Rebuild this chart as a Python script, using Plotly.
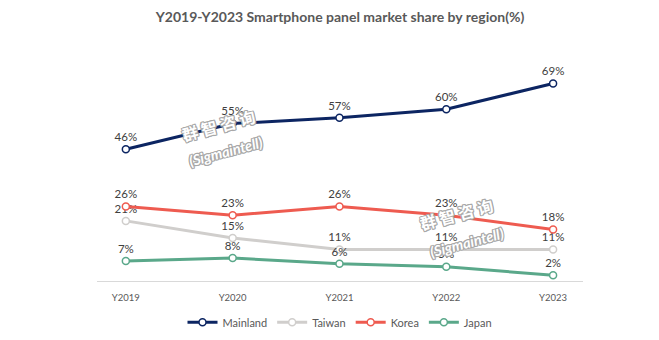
import plotly.graph_objects as go

# Market share by region, %
years = ["Y2019", "Y2020", "Y2021", "Y2022", "Y2023"]
mainland = [46, 55, 57, 60, 69]
taiwan = [21, 15, 11, 11, 11]
korea = [26, 23, 26, 23, 18]
japan = [7, 8, 6, 5, 2]

series = [
    ("Mainland", mainland, "#0c2562"),
    ("Taiwan", taiwan, "#d0cecc"),
    ("Korea", korea, "#ee5b50"),
    ("Japan", japan, "#5aa88a"),
]

xpos = list(range(len(years)))

fig = go.Figure()
for name, vals, color in series:
    fig.add_trace(go.Scatter(
        x=xpos, y=vals, name=name,
        mode="lines+markers+text",
        line=dict(color=color, width=3),
        marker=dict(size=7, color="white", line=dict(color=color, width=1.5)),
        text=[f"{v}%" for v in vals],
        textposition="top center",
        textfont=dict(family="Lato", size=11.5, color="#404040"),
        cliponaxis=False,
    ))

# Watermarks: white text with grey outline
g = "#a8a8a8"
outline = ", ".join(f"{dx}px {dy}px 0 {g}" for dx, dy in
                    [(1, 0), (-1, 0), (0, 1), (0, -1), (1, 1), (-1, -1), (1, -1), (-1, 1)])
marks = [
    (0.251, 0.681, 0.265, 0.565),
    (0.739, 0.293, 0.761, 0.168),
]
for cx, cy, sx, sy in marks:
    fig.add_annotation(
        x=cx, y=cy, xref="paper", yref="paper", showarrow=False,
        xanchor="center", yanchor="middle",
        text="群 智 咨 询", textangle=-15,
        font=dict(family="Noto Sans CJK SC", size=16, color="white", weight="bold", shadow=outline),
    )
    fig.add_annotation(
        x=sx, y=sy, xref="paper", yref="paper", showarrow=False,
        xanchor="center", yanchor="middle",
        text="(Sigmaintell)", textangle=-15,
        font=dict(family="Lato", size=14.5, color="white", weight="bold", style="italic", shadow=outline),
    )

fig.update_layout(
    width=659, height=340,
    margin=dict(l=97, r=76, t=52, b=59, autoexpand=False),
    paper_bgcolor="white", plot_bgcolor="white",
    title=dict(
        text="Y2019-Y2023 Smartphone panel market share by region(%)",
        x=0.5, xref="paper", xanchor="center", y=0.95, yanchor="middle",
        font=dict(family="Lato", size=14, color="#595959", weight="bold"),
    ),
    showlegend=True,
    legend=dict(
        orientation="h", x=0.5, xanchor="center", y=-0.18, yanchor="middle",
        font=dict(family="Lato", size=11, color="#595959"),
        itemwidth=30, traceorder="normal",
    ),
    xaxis=dict(
        range=[-0.27, 4.28], tickvals=xpos, ticktext=years,
        showgrid=False, zeroline=False,
        showline=True, linecolor="#d9d9d9", linewidth=1,
        ticks="", ticklabelstandoff=8,
        tickfont=dict(family="Lato", size=9.5, color="#595959"),
    ),
    yaxis=dict(
        range=[0, 80], visible=False, showgrid=False, zeroline=False,
    ),
)

fig.write_html("out.html")
